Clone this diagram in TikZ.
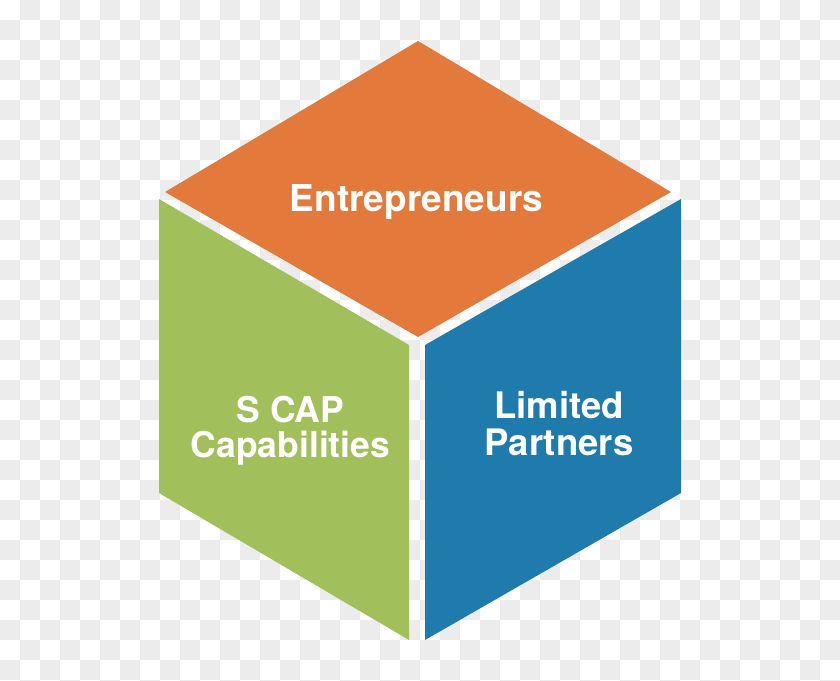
\documentclass[tikz,border=0pt]{standalone}
\usepackage{fontspec}
\setmainfont{TeX Gyre Heros}
\definecolor{checkgray}{HTML}{ECECEC}
\definecolor{faceorange}{HTML}{E3793B}
\definecolor{facegreen}{HTML}{A1BF5A}
\definecolor{faceblue}{HTML}{1E7BAB}
\tikzset{
  face/.style={draw=none},
  facelabel/.style={text=white, font=\bfseries, align=center, inner sep=0pt, anchor=base},
}
\begin{document}
\begin{tikzpicture}[x=1bp, y=-1bp]
\useasboundingbox (0,0) rectangle (840,681);
\clip (0,0) rectangle (840,681);
\fill[white] (0,0) rectangle (840,681);
% checkerboard background
\foreach \j in {0,...,34}{
  \pgfmathtruncatemacro\off{mod(\j,2)}
  \foreach \i in {0,...,20}{
    \fill[checkgray] ({(2*\i+1-\off)*20},{\j*20}) rectangle ++(20,20);
  }
}
% faces
\fill[face, faceorange] (418,41) -- (671,192) -- (418,337) -- (165,192) -- cycle;
\fill[face, facegreen] (159,199) -- (409,345) -- (409,640) -- (159,493) -- cycle;
\fill[face, faceblue] (425,345) -- (681,199) -- (681,493) -- (425,640) -- cycle;
% labels
\node[facelabel, font=\bfseries\fontsize{37bp}{37bp}\selectfont] (entre) at (416.5,211) {Entrepreneurs};
\node[facelabel, font=\bfseries\fontsize{35.5bp}{35bp}\selectfont] (scap) at (290.5,457) {S CAP\\Capabilities};
\node[facelabel, font=\bfseries\fontsize{36.5bp}{37bp}\selectfont] (lp) at (559,455) {Limited\\Partners};
\end{tikzpicture}
\end{document}
